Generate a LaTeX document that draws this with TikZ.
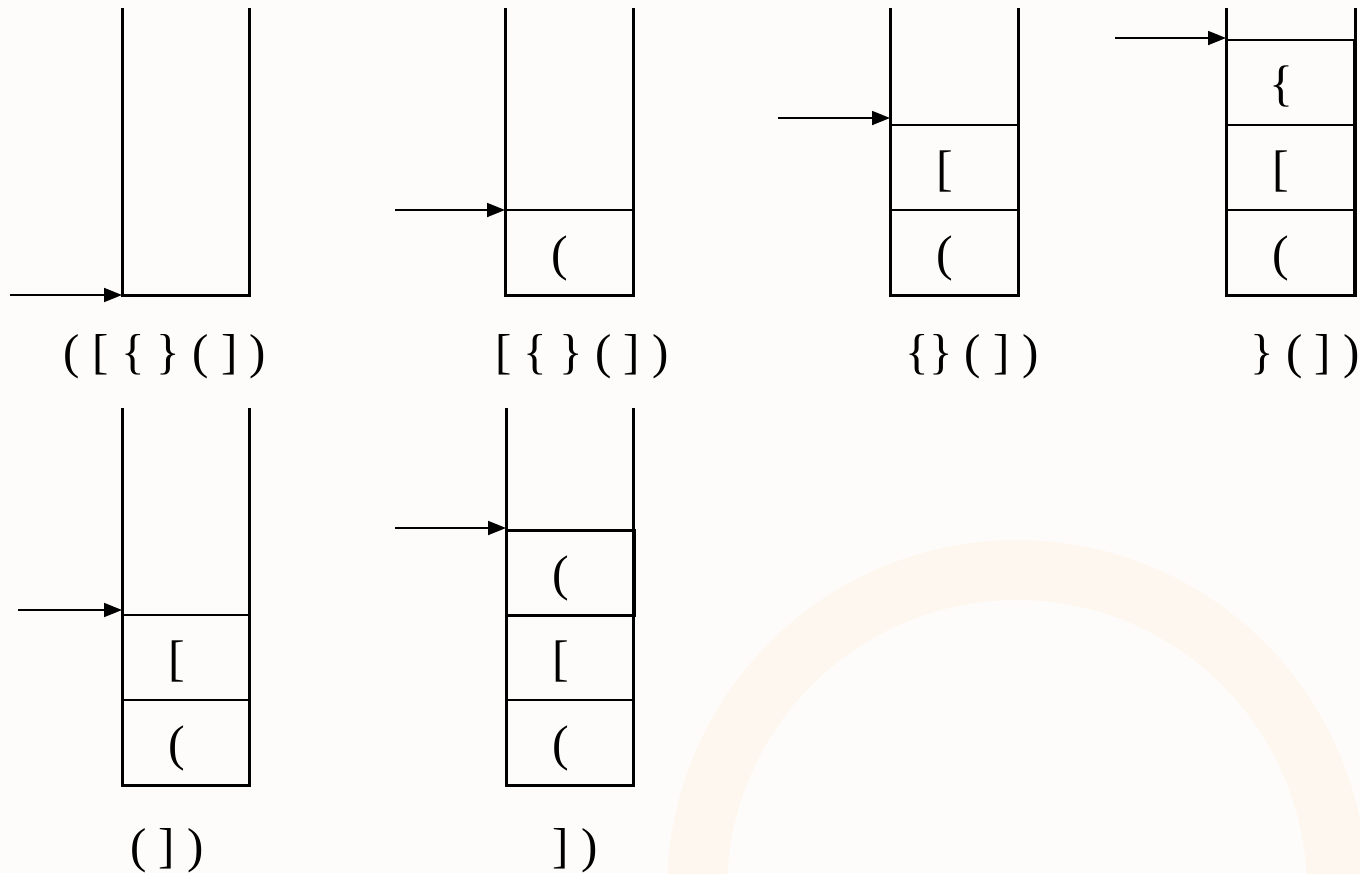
\documentclass[tikz,border=0pt]{standalone}
\usepackage{fontspec}
\setmainfont{Liberation Serif}
\usetikzlibrary{arrows.meta,positioning}
\definecolor{paper}{RGB}{254,252,250}
\definecolor{halo}{RGB}{254,247,239}
\tikzset{
  cell/.style={draw,line width=2pt,outer sep=0pt,inner sep=0pt,
    minimum width=128pt,minimum height=85pt,font=\fontsize{50}{50}\selectfont,
    text height=41pt,text depth=5pt,execute at end node={\hspace{18pt}}},
  wall/.style={line width=3pt},
  ptr/.style={line width=1.8pt,-{Triangle[length=18pt,width=14pt]}},
  lbl/.style={font=\fontsize{49}{49}\selectfont,inner sep=0pt}
}
\begin{document}
\begin{tikzpicture}[x=1pt,y=-1pt]
\useasboundingbox (0,0) rectangle (1360,873);
\fill[paper] (0,0) rectangle (1360,873);
\begin{scope}
\clip (0,0) rectangle (1360,873);
\fill[halo,even odd rule] (1017,890) circle (350pt) (1017,890) circle (290pt);
\end{scope}
% stack walls
\foreach \l/\r/\t/\b in {122/249/8/295,505/633/8/295,890/1018/8/295,
  1226/1355/8/295,122/249/408/785,506/633/408/785}
  \draw[wall] (\l,\t) -- (\l,\b) -- (\r,\b) -- (\r,\t);
% stack 1: empty
\coordinate (f1) at (122,295);
\coordinate (p1) at (10,295);
\draw[ptr] (p1) -- (f1);
% stack 2
\node[cell,anchor=south west] (b2) at (505,295) {(};
\coordinate (p2) at (395,210);
\draw[ptr] (p2) -- (b2.north west);
% stack 3
\node[cell,anchor=south west] (b3) at (890,295) {(};
\node[cell,above=0pt of b3] (m3) {[};
\coordinate (p3) at (778,118);
\draw[ptr] (p3) -- (p3 -| m3.west);
% stack 4
\node[cell,anchor=south west] (b4) at (1226,295) {(};
\node[cell,above=0pt of b4] (m4) {[};
\node[cell,above=0pt of m4] (t4) {\{};
\coordinate (p4) at (1115,38);
\draw[ptr] (p4) -- (p4 -| t4.west);
% stack 5
\node[cell,anchor=south west] (b5) at (122,785) {(};
\node[cell,above=0pt of b5] (m5) {[};
\coordinate (p5) at (18,610);
\draw[ptr] (p5) -- (p5 -| m5.west);
% stack 6
\node[cell,anchor=south west] (b6) at (506,785) {(};
\node[cell,above=0pt of b6] (m6) {[};
\node[cell,above=0pt of m6,line width=3pt] (t6) {(};
\coordinate (p6) at (395,528);
\draw[ptr] (p6) -- (p6 -| t6.west);
% remaining input
\node[lbl] (l1) at (165,357) {( [ \{ \} ( ] )};
\node[lbl] (l2) at (582,357) {[ \{ \} ( ] )};
\node[lbl] (l3) at (972,357) {\{\} ( ] )};
\node[lbl] (l4) at (1305,357) {\} ( ] )};
\node[lbl] (l5) at (167,851) {( ] )};
\node[lbl] (l6) at (575,851) {] )};
\end{tikzpicture}
\end{document}
